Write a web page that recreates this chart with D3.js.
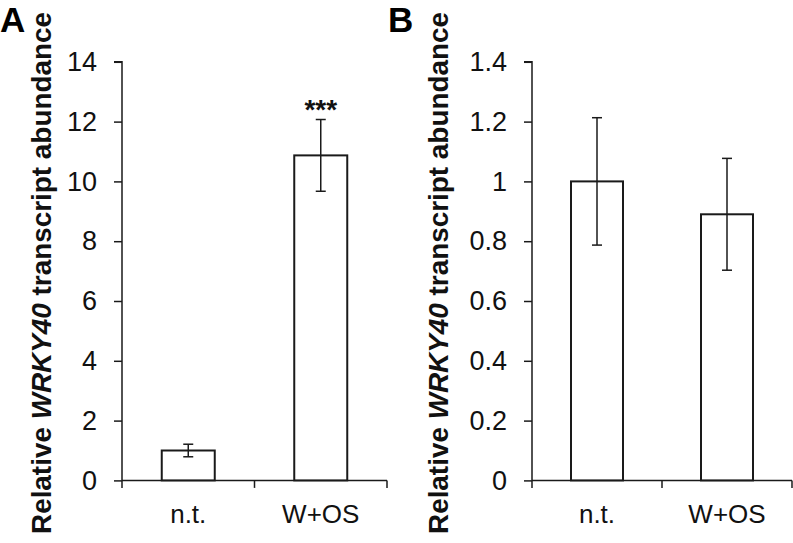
<!DOCTYPE html>
<html>
<head>
<meta charset="utf-8">
<script src="https://cdn.jsdelivr.net/npm/d3@7"></script>
<style>
  html, body { margin: 0; padding: 0; background: #fff; }
  svg { display: block; font-family: "Liberation Sans", Arial, sans-serif; }
</style>
</head>
<body>
<svg id="chart" width="793" height="543"></svg>
<script>
// ---- data ----
const categories = ["n.t.", "W+OS"];
const valuesA = [1.0, 10.87];
const errorsA = [0.21, 1.2];
const sigA = ["", "***"];
const ticksA = [0, 2, 4, 6, 8, 10, 12, 14];
const valuesB = [1.0, 0.89];
const errorsB = [0.213, 0.187];
const sigB = ["", ""];
const ticksB = [0, 0.2, 0.4, 0.6, 0.8, 1.0, 1.2, 1.4];
const panelLetters = ["A", "B"];
const yLabelParts = [["Relative ", "normal"], ["WRKY40", "italic"], [" transcript abundance", "normal"]];

const ink = "#1a1a1a";
const svg = d3.select("#chart");

const panels = [
  { letter: panelLetters[0], values: valuesA, errors: errorsA, sig: sigA, ticks: ticksA, max: 14,
    x0: 122, x1: 387, letterX: 0, labelX: 51 },
  { letter: panelLetters[1], values: valuesB, errors: errorsB, sig: sigB, ticks: ticksB, max: 1.4,
    x0: 532, x1: 792, letterX: 388, labelX: 448 }
];

const yTop = 61.8, yBottom = 480.4;

panels.forEach(p => {
  const g = svg.append("g");
  const x = d3.scaleBand().domain(categories).range([p.x0, p.x1]).paddingInner(0).paddingOuter(0);
  const y = d3.scaleLinear().domain([0, p.max]).range([yBottom, yTop]);

  // y axis
  const yAxis = d3.axisLeft(y).tickValues(p.ticks).tickSize(8).tickPadding(17)
    .tickFormat(d => d3.format("")(+d.toFixed(2)));
  const ya = g.append("g").attr("transform", `translate(${p.x0},0)`).call(yAxis);
  ya.select(".domain").attr("stroke", ink).attr("stroke-width", 1.5).attr("d", `M-8,${yTop}H0V${yBottom}`);
  ya.selectAll(".tick line").attr("stroke", ink).attr("stroke-width", 1.5);
  ya.selectAll(".tick text").attr("fill", "#111").style("font-size", "27px")
    .style("font-family", "'Liberation Sans', Arial, sans-serif");

  // x axis (ticks at band boundaries)
  const xa = g.append("g");
  xa.append("line").attr("x1", p.x0).attr("x2", p.x1).attr("y1", yBottom).attr("y2", yBottom)
    .attr("stroke", ink).attr("stroke-width", 1.5);
  const bounds = categories.map(c => x(c)).concat([x(categories[categories.length - 1]) + x.bandwidth()]);
  xa.selectAll("line.tk").data(bounds).join("line").attr("class", "tk")
    .attr("x1", d => d).attr("x2", d => d).attr("y1", yBottom).attr("y2", yBottom + 7.5)
    .attr("stroke", ink).attr("stroke-width", 1.5);
  xa.selectAll("text").data(categories).join("text")
    .attr("x", d => x(d) + x.bandwidth() / 2).attr("y", 523)
    .attr("text-anchor", "middle").style("font-size", "26px").attr("fill", "#111").text(d => d);

  // bars
  const bw = x.bandwidth() * 0.4;
  const data = categories.map((c, i) => ({ c, v: p.values[i], e: p.errors[i], s: p.sig[i] }));
  g.selectAll("rect.bar").data(data).join("rect").attr("class", "bar")
    .attr("x", d => x(d.c) + x.bandwidth() / 2 - bw / 2)
    .attr("y", d => y(d.v))
    .attr("width", bw)
    .attr("height", d => y(0) - y(d.v))
    .attr("fill", "#fff").attr("stroke", ink).attr("stroke-width", 2);

  // error bars
  const cap = 5;
  const eb = g.selectAll("g.err").data(data).join("g").attr("class", "err")
    .attr("stroke", ink).attr("stroke-width", 1.5);
  eb.append("line").attr("x1", d => x(d.c) + x.bandwidth() / 2).attr("x2", d => x(d.c) + x.bandwidth() / 2)
    .attr("y1", d => y(d.v + d.e)).attr("y2", d => y(d.v - d.e));
  eb.append("line").attr("x1", d => x(d.c) + x.bandwidth() / 2 - cap).attr("x2", d => x(d.c) + x.bandwidth() / 2 + cap)
    .attr("y1", d => y(d.v + d.e)).attr("y2", d => y(d.v + d.e));
  eb.append("line").attr("x1", d => x(d.c) + x.bandwidth() / 2 - cap).attr("x2", d => x(d.c) + x.bandwidth() / 2 + cap)
    .attr("y1", d => y(d.v - d.e)).attr("y2", d => y(d.v - d.e));

  // significance
  g.selectAll("text.sig").data(data.filter(d => d.s)).join("text").attr("class", "sig")
    .attr("x", d => x(d.c) + x.bandwidth() / 2).attr("y", d => y(d.v + d.e) - 1)
    .attr("text-anchor", "middle").style("font-size", "28px").style("font-weight", "bold")
    .attr("fill", "#111").text(d => d.s);

  // y label
  const lbl = g.append("text")
    .attr("transform", `translate(${p.labelX},${273}) rotate(-90)`)
    .attr("text-anchor", "middle")
    .attr("textLength", 522).attr("lengthAdjust", "spacingAndGlyphs")
    .style("font-size", "27px").style("font-weight", "bold").attr("fill", "#111");
  yLabelParts.forEach(([t, st]) => lbl.append("tspan").style("font-style", st).text(t));

  // panel letter
  g.append("text").attr("x", p.letterX).attr("y", 32)
    .style("font-size", "35px").style("font-weight", "bold").attr("fill", "#000").text(p.letter);
});
</script>
</body>
</html>
